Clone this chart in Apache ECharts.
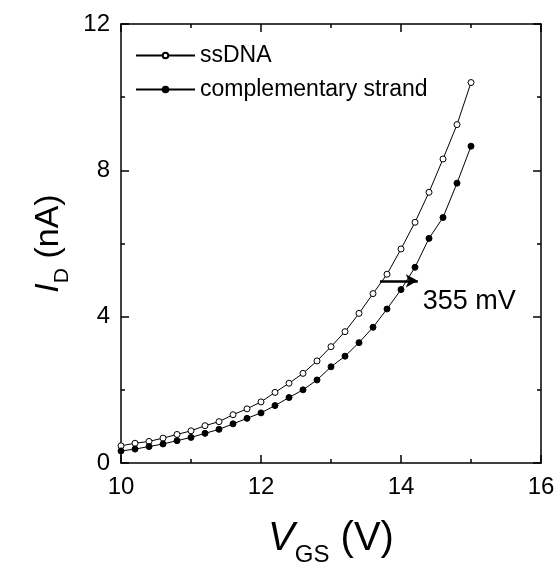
<!DOCTYPE html>
<html>
<head>
<meta charset="utf-8">
<script src="https://cdn.jsdelivr.net/npm/echarts@6/dist/echarts.min.js"></script>
<style>html,body{margin:0;padding:0;background:#fff}#c{width:558px;height:565px}</style>
</head>
<body>
<div id="c"></div>
<script>
const vgs = [10.0, 10.2, 10.4, 10.6, 10.8, 11.0, 11.2, 11.4, 11.6, 11.8, 12.0, 12.2, 12.4,
             12.6, 12.8, 13.0, 13.2, 13.4, 13.6, 13.8, 14.0, 14.2, 14.4, 14.6, 14.8, 15.0];
const ssDNA = [0.47, 0.54, 0.59, 0.68, 0.78, 0.88, 1.02, 1.13, 1.32, 1.48, 1.67, 1.93, 2.18,
               2.45, 2.79, 3.18, 3.59, 4.09, 4.63, 5.16, 5.85, 6.58, 7.40, 8.31, 9.25, 10.40];
const complementary = [0.33, 0.38, 0.45, 0.52, 0.61, 0.70, 0.81, 0.92, 1.07, 1.22, 1.37, 1.57, 1.79,
                       2.00, 2.27, 2.63, 2.92, 3.29, 3.71, 4.21, 4.74, 5.35, 6.14, 6.71, 7.65, 8.66];
const seriesNames = ['ssDNA', 'complementary strand'];
const shiftArrow = [[13.70, 4.98], [14.24, 4.98]];
const shiftLabel = { coord: [14.31, 4.41], text: '355 mV' };

const FONT = "'Liberation Sans', Arial, sans-serif";
const pair = (xs, ys) => xs.map((x, i) => [x, ys[i]]);

const axisCommon = {
  type: 'value',
  axisLine: { show: true, onZero: false, lineStyle: { color: '#000', width: 1.5 } },
  axisTick: { show: true, inside: true, length: 8, lineStyle: { color: '#000', width: 1.5 } },
  minorTick: { show: true, splitNumber: 2, length: 4, lineStyle: { color: '#000', width: 1.5 } },
  splitLine: { show: false },
  minorSplitLine: { show: false }
};

const chart = echarts.init(document.getElementById('c'), null, { renderer: 'canvas' });
chart.setOption({
  backgroundColor: '#fff',
  animation: false,
  grid: { left: 121, right: 17, top: 24, bottom: 102, containLabel: false, outerBoundsMode: 'none' },
  legend: {
    left: 130, top: 39, orient: 'vertical', itemGap: 11,
    itemWidth: 59, itemHeight: 7,
    textStyle: { fontSize: 23, color: '#000', fontFamily: FONT },
    data: seriesNames
  },
  xAxis: [
    Object.assign({}, axisCommon, {
      min: 10, max: 16, interval: 2, position: 'bottom',
      axisLabel: { fontSize: 24, color: '#000', fontFamily: FONT, margin: 12 },
      name: '{i|V}{s|GS}{n| (V)}', nameLocation: 'middle', nameGap: 48,
      nameTextStyle: {
        fontFamily: FONT, color: '#000', fontSize: 40,
        rich: {
          i: { fontSize: 40, fontStyle: 'italic', fontFamily: FONT, color: '#000' },
          s: { fontSize: 24, fontFamily: FONT, color: '#000', padding: [32, 0, 0, 0] },
          n: { fontSize: 40, fontFamily: FONT, color: '#000' }
        }
      }
    }),
    Object.assign({}, axisCommon, {
      min: 10, max: 16, interval: 2, position: 'top',
      axisLabel: { show: false }
    })
  ],
  yAxis: [
    Object.assign({}, axisCommon, {
      min: 0, max: 12, interval: 4, position: 'left',
      axisLabel: { fontSize: 24, color: '#000', fontFamily: FONT, margin: 11 },
      name: '{i|I}{s|D}{n| (nA)}', nameLocation: 'middle', nameGap: 47, nameRotate: 90,
      nameTextStyle: {
        fontFamily: FONT, color: '#000', fontSize: 34,
        rich: {
          i: { fontSize: 34, fontStyle: 'italic', fontFamily: FONT, color: '#000' },
          s: { fontSize: 21, fontFamily: FONT, color: '#000', padding: [26, 0, 0, 0] },
          n: { fontSize: 34, fontFamily: FONT, color: '#000' }
        }
      }
    }),
    Object.assign({}, axisCommon, {
      min: 0, max: 12, interval: 4, position: 'right',
      axisLabel: { show: false }
    })
  ],
  series: [
    {
      name: seriesNames[0], type: 'line', data: pair(vgs, ssDNA),
      symbol: 'circle', symbolSize: 6, showSymbol: true,
      lineStyle: { color: '#000', width: 1 },
      itemStyle: { color: '#fff', borderColor: '#000', borderWidth: 1 },
      z: 3
    },
    {
      name: seriesNames[1], type: 'line', data: pair(vgs, complementary),
      symbol: 'circle', symbolSize: 6, showSymbol: true,
      lineStyle: { color: '#000', width: 1 },
      itemStyle: { color: '#000', borderColor: '#000', borderWidth: 1 },
      z: 3,
      markLine: {
        silent: true, symbol: ['none', 'arrow'], symbolSize: [10, 12],
        lineStyle: { color: '#000', width: 2.5, type: 'solid' },
        label: { show: false },
        data: [[{ coord: shiftArrow[0] }, { coord: shiftArrow[1] }]],
        z: 5
      },
      markPoint: {
        silent: true, symbol: 'circle', symbolSize: 0,
        label: {
          show: true, position: 'right', distance: 0, formatter: shiftLabel.text,
          fontSize: 27, color: '#000', fontFamily: FONT
        },
        data: [{ coord: shiftLabel.coord }]
      }
    }
  ]
});
</script>
</body>
</html>
